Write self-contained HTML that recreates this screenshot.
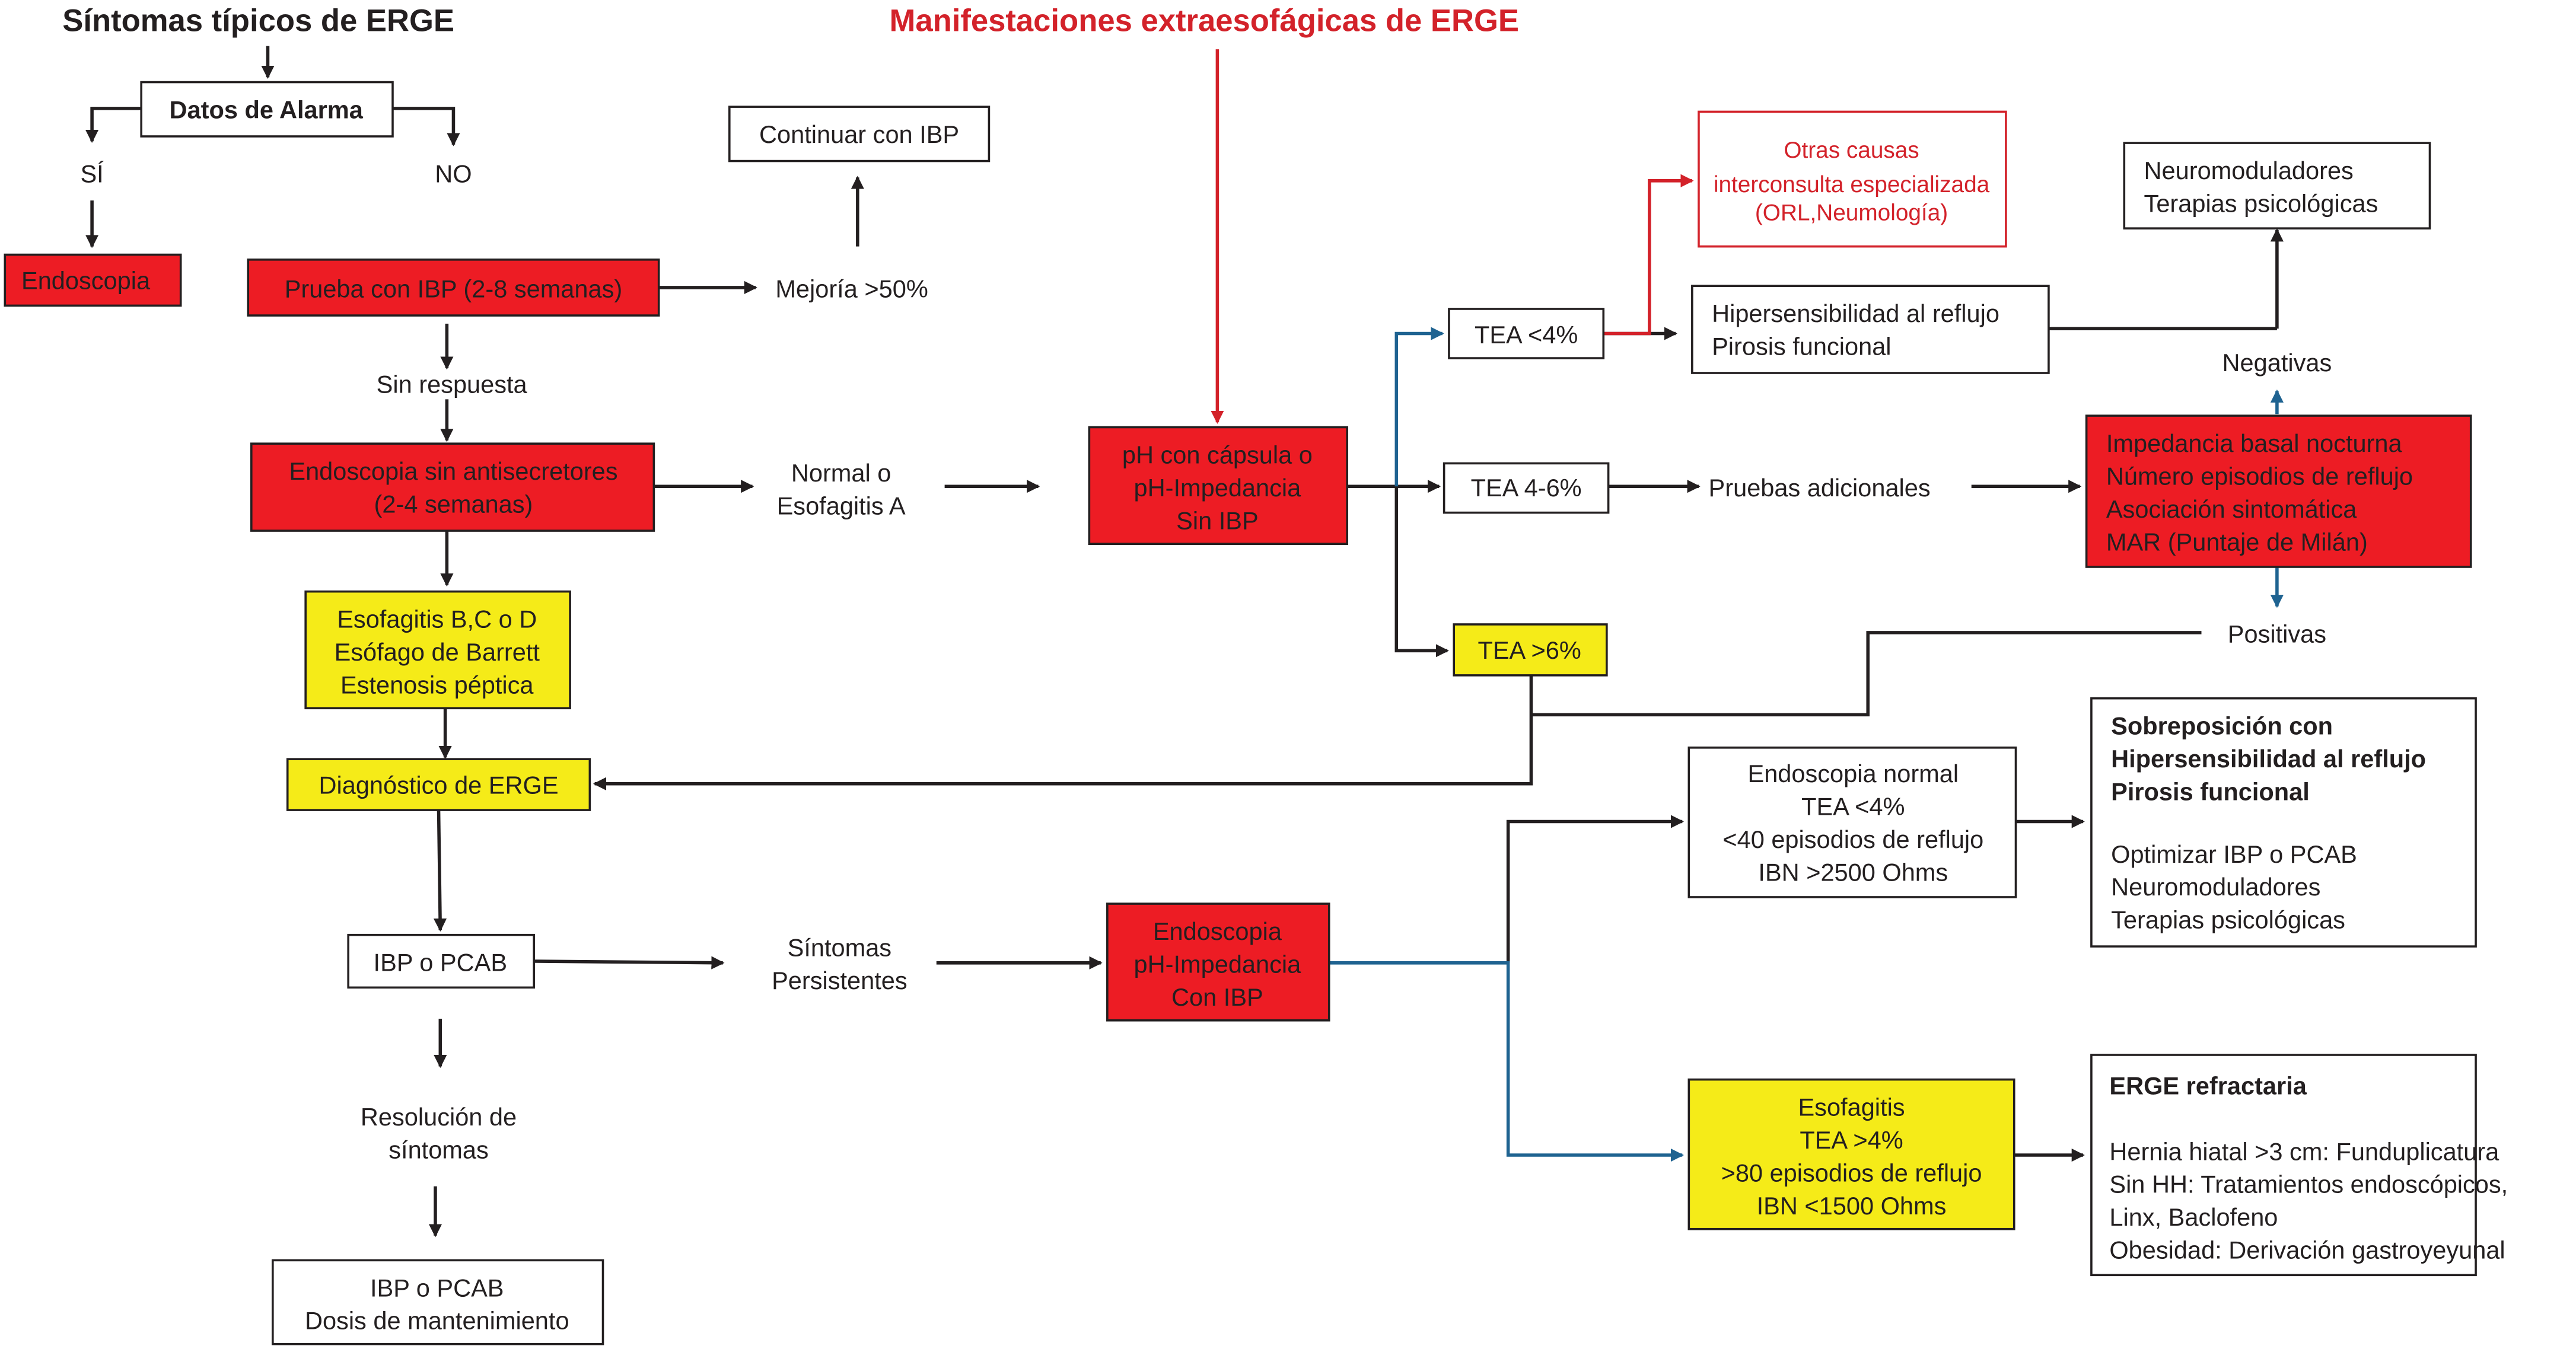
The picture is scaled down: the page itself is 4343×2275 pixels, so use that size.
<!DOCTYPE html>
<html><head><meta charset="utf-8"><style>
html,body{margin:0;padding:0;background:#fff;}
svg{display:block;}
text{font-family:"Liberation Sans",Arial,sans-serif;font-size:15px;fill:#231f20;}
.b{font-weight:bold;}
.c{text-anchor:middle;}
.r{fill:#d3222a;}
</style></head><body>
<svg width="4343" height="2275" viewBox="0 0 1568 821" preserveAspectRatio="none" xmlns="http://www.w3.org/2000/svg">
<defs>
<marker id="ak" markerWidth="8" markerHeight="8" refX="7" refY="4" orient="auto" markerUnits="userSpaceOnUse"><path d="M0,0 L8,4 L0,8 z" fill="#231f20"/></marker>
<marker id="ab" markerWidth="8" markerHeight="8" refX="7" refY="4" orient="auto" markerUnits="userSpaceOnUse"><path d="M0,0 L8,4 L0,8 z" fill="#1f6391"/></marker>
<marker id="ar" markerWidth="8" markerHeight="8" refX="7" refY="4" orient="auto" markerUnits="userSpaceOnUse"><path d="M0,0 L8,4 L0,8 z" fill="#d3222a"/></marker>
</defs>
<g fill="none" stroke="#231f20" stroke-width="2">
<path d="M163,28 V47" marker-end="url(#ak)"/>
<path d="M86,66 H56 V86" marker-end="url(#ak)"/>
<path d="M239,66 H276 V88" marker-end="url(#ak)"/>
<path d="M56,122 V150" marker-end="url(#ak)"/>
<path d="M272,197 V224" marker-end="url(#ak)"/>
<path d="M272,243 V268" marker-end="url(#ak)"/>
<path d="M272,323 V356" marker-end="url(#ak)"/>
<path d="M271,431 V461" marker-end="url(#ak)"/>
<path d="M267,493 L268,566" marker-end="url(#ak)"/>
<path d="M325,585 L440,586" marker-end="url(#ak)"/>
<path d="M570,586 H670" marker-end="url(#ak)"/>
<path d="M268,620 V649" marker-end="url(#ak)"/>
<path d="M265,722 V752" marker-end="url(#ak)"/>
<path d="M401,175 H460" marker-end="url(#ak)"/>
<path d="M522,150 V108" marker-end="url(#ak)"/>
<path d="M398,296 H458" marker-end="url(#ak)"/>
<path d="M575,296 H632" marker-end="url(#ak)"/>
<path d="M820,296 H876" marker-end="url(#ak)"/>
<path d="M850,296 V396 H881" marker-end="url(#ak)"/>
<path d="M976,203 H1020" marker-end="url(#ak)"/>
<path d="M1247,200 H1386"/>
<path d="M1386,200 V140" marker-end="url(#ak)"/>
<path d="M979,296 H1034" marker-end="url(#ak)"/>
<path d="M1200,296 H1266" marker-end="url(#ak)"/>
<path d="M1340,385 H1137 V435 H932"/>
<path d="M932,411 V477 H362" marker-end="url(#ak)"/>
<path d="M918,586 V500 H1024" marker-end="url(#ak)"/>
<path d="M1227,500 H1268" marker-end="url(#ak)"/>
<path d="M1226,703 H1268" marker-end="url(#ak)"/>
</g>
<g fill="none" stroke="#1f6391" stroke-width="2">
<path d="M850,296 V203 H878" marker-end="url(#ab)"/>
<path d="M1386,252 V238" marker-end="url(#ab)"/>
<path d="M1386,345 V369" marker-end="url(#ab)"/>
<path d="M809,586 H918 V703 H1024" marker-end="url(#ab)"/>
</g>
<g fill="none" stroke="#d3222a" stroke-width="2">
<path d="M741,30 V257" marker-end="url(#ar)"/>
<path d="M976,203 H1004 V110 H1030" marker-end="url(#ar)"/>
</g>
<!-- boxes -->
<g stroke="#231f20" stroke-width="1.3">
<rect x="86" y="50" width="153" height="33" fill="#fff"/>
<rect x="3" y="155" width="107" height="31" fill="#ed1c24"/>
<rect x="151" y="158" width="250" height="34" fill="#ed1c24"/>
<rect x="153" y="270" width="245" height="53" fill="#ed1c24"/>
<rect x="186" y="360" width="161" height="71" fill="#f5eb18"/>
<rect x="175" y="462" width="184" height="31" fill="#f5eb18"/>
<rect x="212" y="569" width="113" height="32" fill="#fff"/>
<rect x="674" y="550" width="135" height="71" fill="#ed1c24"/>
<rect x="166" y="767" width="201" height="51" fill="#fff"/>
<rect x="444" y="65" width="158" height="33" fill="#fff"/>
<rect x="663" y="260" width="157" height="71" fill="#ed1c24"/>
<rect x="879" y="282" width="100" height="30" fill="#fff"/>
<rect x="882" y="188" width="94" height="30" fill="#fff"/>
<rect x="1030" y="174" width="217" height="53" fill="#fff"/>
<rect x="1293" y="87" width="186" height="52" fill="#fff"/>
<rect x="1270" y="253" width="234" height="92" fill="#ed1c24"/>
<rect x="885" y="380" width="93" height="31" fill="#f5eb18"/>
<rect x="1028" y="455" width="199" height="91" fill="#fff"/>
<rect x="1273" y="425" width="234" height="151" fill="#fff"/>
<rect x="1028" y="657" width="198" height="91" fill="#f5eb18"/>
<rect x="1273" y="642" width="234" height="134" fill="#fff"/>
</g>
<rect x="1034" y="68" width="187" height="82" fill="#fff" stroke="#d3222a" stroke-width="1.3"/>
<!-- texts -->
<text x="38" y="19" class="b" style="font-size:19px">Síntomas típicos de ERGE</text>
<text x="733" y="19" class="b c r" style="font-size:19px">Manifestaciones extraesofágicas de ERGE</text>
<text x="162" y="72" class="b c">Datos de Alarma</text>
<text x="56" y="111" class="c">SÍ</text>
<text x="276" y="111" class="c">NO</text>
<text x="13" y="176">Endoscopia</text>
<text x="276" y="181" class="c">Prueba con IBP (2-8 semanas)</text>
<text x="275" y="239" class="c">Sin respuesta</text>
<text x="276" y="292" class="c">Endoscopia sin antisecretores</text>
<text x="276" y="312" class="c">(2-4 semanas)</text>
<text x="266" y="382" class="c">Esofagitis B,C o D</text>
<text x="266" y="402" class="c">Esófago de Barrett</text>
<text x="266" y="422" class="c">Estenosis péptica</text>
<text x="267" y="483" class="c">Diagnóstico de ERGE</text>
<text x="268" y="591" class="c">IBP o PCAB</text>
<text x="511" y="582" class="c">Síntomas</text>
<text x="511" y="602" class="c">Persistentes</text>
<text x="741" y="572" class="c">Endoscopia</text>
<text x="741" y="592" class="c">pH-Impedancia</text>
<text x="741" y="612" class="c">Con IBP</text>
<text x="267" y="685" class="c">Resolución de</text>
<text x="267" y="705" class="c">síntomas</text>
<text x="266" y="789" class="c">IBP o PCAB</text>
<text x="266" y="809" class="c">Dosis de mantenimiento</text>
<text x="523" y="87" class="c">Continuar con IBP</text>
<text x="472" y="181">Mejoría &gt;50%</text>
<text x="512" y="293" class="c">Normal o</text>
<text x="512" y="313" class="c">Esofagitis A</text>
<text x="741" y="282" class="c">pH con cápsula o</text>
<text x="741" y="302" class="c">pH-Impedancia</text>
<text x="741" y="322" class="c">Sin IBP</text>
<text x="929" y="209" class="c">TEA &lt;4%</text>
<text x="929" y="302" class="c">TEA 4-6%</text>
<text x="931" y="401" class="c">TEA &gt;6%</text>
<text x="1127" y="96" class="c r" style="font-size:14px">Otras causas</text>
<text x="1127" y="117" class="c r" style="font-size:14px">interconsulta especializada</text>
<text x="1127" y="134" class="c r" style="font-size:14px">(ORL,Neumología)</text>
<text x="1042" y="196">Hipersensibilidad al reflujo</text>
<text x="1042" y="216">Pirosis funcional</text>
<text x="1305" y="109">Neuromoduladores</text>
<text x="1305" y="129">Terapias psicológicas</text>
<text x="1386" y="226" class="c">Negativas</text>
<text x="1040" y="302">Pruebas adicionales</text>
<text x="1282" y="275">Impedancia basal nocturna</text>
<text x="1282" y="295">Número episodios de reflujo</text>
<text x="1282" y="315">Asociación sintomática</text>
<text x="1282" y="335">MAR (Puntaje de Milán)</text>
<text x="1386" y="391" class="c">Positivas</text>
<text x="1128" y="476" class="c">Endoscopia normal</text>
<text x="1128" y="496" class="c">TEA &lt;4%</text>
<text x="1128" y="516" class="c">&lt;40 episodios de reflujo</text>
<text x="1128" y="536" class="c">IBN &gt;2500 Ohms</text>
<text x="1285" y="447" class="b">Sobreposición con</text>
<text x="1285" y="467" class="b">Hipersensibilidad al reflujo</text>
<text x="1285" y="487" class="b">Pirosis funcional</text>
<text x="1285" y="525">Optimizar IBP o PCAB</text>
<text x="1285" y="545">Neuromoduladores</text>
<text x="1285" y="565">Terapias psicológicas</text>
<text x="1127" y="679" class="c">Esofagitis</text>
<text x="1127" y="699" class="c">TEA &gt;4%</text>
<text x="1127" y="719" class="c">&gt;80 episodios de reflujo</text>
<text x="1127" y="739" class="c">IBN &lt;1500 Ohms</text>
<text x="1284" y="666" class="b">ERGE refractaria</text>
<text x="1284" y="706">Hernia hiatal &gt;3 cm: Funduplicatura</text>
<text x="1284" y="726">Sin HH: Tratamientos endoscópicos,</text>
<text x="1284" y="746">Linx, Baclofeno</text>
<text x="1284" y="766">Obesidad: Derivación gastroyeyunal</text>
</svg>
</body></html>
